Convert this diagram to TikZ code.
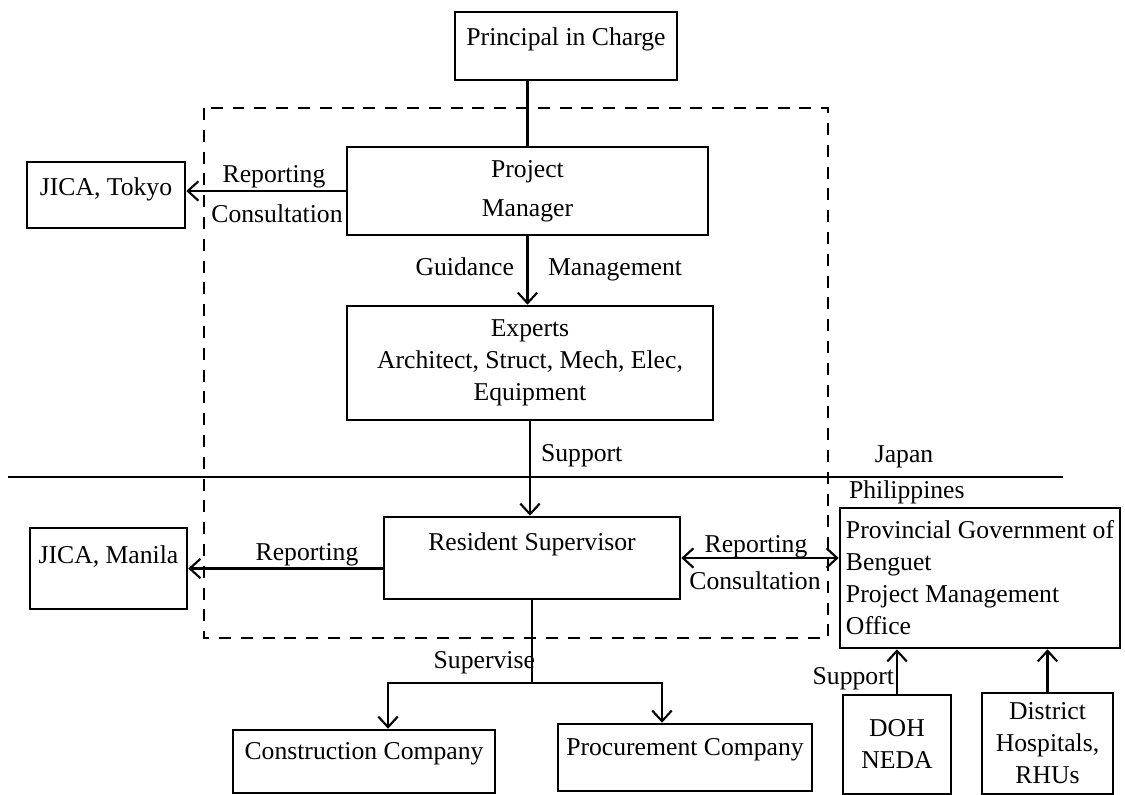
\documentclass[tikz,border=0pt]{standalone}
\usepackage{fontspec}
\setmainfont{Liberation Serif}
\usetikzlibrary{arrows.meta}
\newcommand*{\txt}{\fontsize{7.3}{9.1}\selectfont}
\newcommand*{\tip}{Straight Barb[length=3pt,width=5.5pt]}

\begin{document}
\begin{tikzpicture}[x=0.01cm, y=-0.01cm, font=\txt, line width=0.6pt,
    box/.style={draw, line width=0.7pt, inner sep=1pt, align=center},
    lift/.style={text height=6pt, text depth=#1},
    arr/.style={-{\tip}},
    twoway/.style={{\tip}-{\tip}},
    lbl/.style={inner sep=0pt}]
    \path [use as bounding box, fill=white] (0,0) rectangle (1125,795);

    % office boundary and the Japan / Philippines border
    \draw [dash pattern=on 3.4pt off 2.8pt] (204,108) rectangle (828,638);
    \draw [line width=0.5pt] (8,477) -- (1063,477);
    \node [lbl] (japan) at (904,457) {Japan};
    \node [lbl, anchor=west] (phil) at (848,492) {Philippines};

    \node [box, lift=6.2pt, minimum width=2.22cm, minimum height=0.68cm] (principal) at (566,46) {Principal in Charge};
    \node [box, minimum width=3.61cm, minimum height=0.88cm] (pm) at (527.5,191) {Project\\[2pt]Manager};
    \node [box, lift=5.6pt, minimum width=1.58cm, minimum height=0.66cm] (tokyo) at (106,195) {JICA, Tokyo};
    \node [box, minimum width=3.66cm, minimum height=1.14cm] (experts) at (530,363) {Experts\\Architect, Struct, Mech, Elec,\\Equipment};
    \node [box, lift=10.1pt, minimum width=2.96cm, minimum height=0.82cm] (rs) at (532,558) {Resident Supervisor};
    \node [box, lift=8.7pt, minimum width=1.57cm, minimum height=0.81cm] (manila) at (108.5,568.5) {JICA, Manila};
    \node [box, align=left, minimum width=2.8cm, minimum height=1.4cm] (prov) at (980,578) {Provincial Government of\\Benguet\\Project Management\\Office};
    \node [box, lift=7pt, minimum width=2.62cm, minimum height=0.63cm] (construct) at (364,761.5) {Construction Company};
    \node [box, lift=7pt, minimum width=2.54cm, minimum height=0.67cm] (procure) at (685,757.5) {Procurement Company};
    \node [box, minimum width=1.08cm, minimum height=0.99cm] (doh) at (897,744.5) {DOH\\NEDA};
    \node [box, minimum width=1.31cm, minimum height=1.01cm] (district) at (1047.5,743.5) {District\\Hospitals,\\RHUs};

    \draw (pm.north) -- (pm.north |- principal.south);
    \draw [arr] (pm.west) -- (pm.west -| tokyo.east);
    \node [lbl] (rep1) at (274,177) {Reporting};
    \node [lbl] (con1) at (277,214) {Consultation};

    \draw [arr] (pm.south) -- (pm.south |- experts.north);
    \node [lbl, anchor=base east] (guid) at (515,276) {Guidance};
    \node [lbl, anchor=base west] (mgmt) at (547,276) {Management};

    \draw [arr] (experts.south) -- (experts.south |- rs.north);
    \node [lbl, anchor=west] (sup1) at (540,456) {Support};

    \draw [arr] (rs.west |- manila.east) -- (manila.east);
    \node [lbl] (rep2) at (307,555) {Reporting};

    \draw [twoway] (rs.east) -- (rs.east -| prov.west);
    \node [lbl] (rep3) at (756,547) {Reporting};
    \node [lbl] (con2) at (755,581) {Consultation};

    \coordinate (split) at (rs.south |- 0,683);
    \draw (rs.south) -- (split);
    \draw [arr] (split) -| ([xshift=0.24cm]construct.north);
    \draw [arr] (split) -| ([xshift=-0.23cm]procure.north);
    \node [lbl, anchor=east] (superv) at (536,663) {Supervise};

    \draw [arr] (doh.north) -- (doh.north |- prov.south);
    \draw [arr] (district.north) -- (district.north |- prov.south);
    \node [lbl, anchor=east] (sup2) at (895,679) {Support};
\end{tikzpicture}
\end{document}
